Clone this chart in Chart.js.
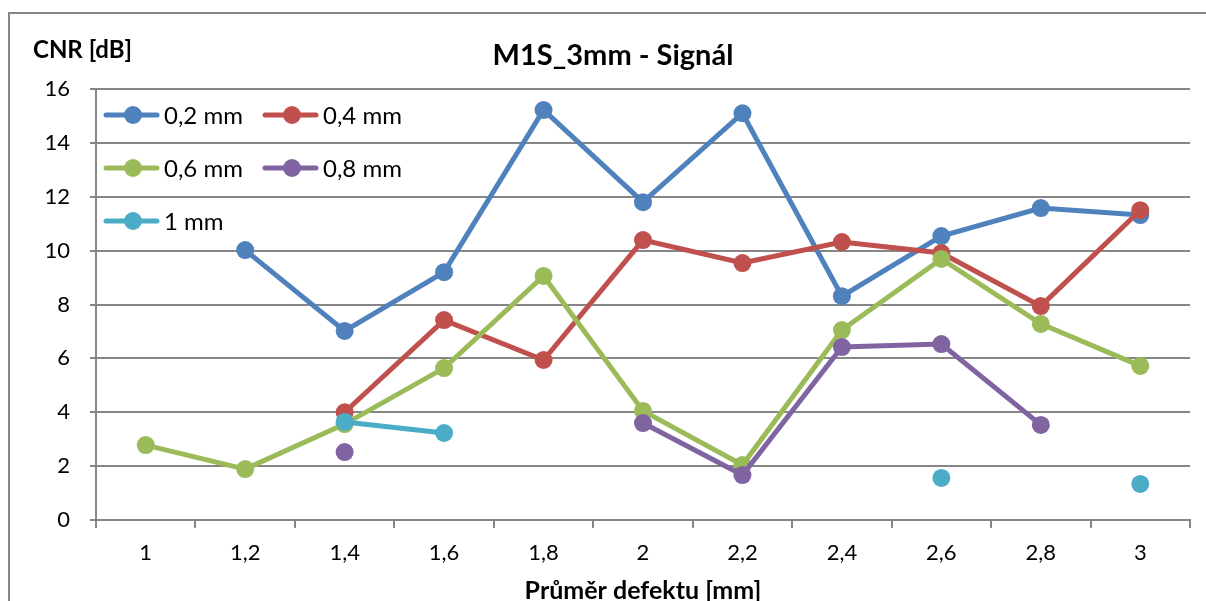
<!DOCTYPE html>
<html>
<head>
<meta charset="utf-8">
<script src="https://cdn.jsdelivr.net/npm/chart.js@4"></script>
<style>
  html, body { margin: 0; padding: 0; background: #fff; }
  #wrap { width: 1206px; height: 601px; }
</style>
</head>
<body>
<div id="wrap"><canvas id="cnrChart" width="1206" height="601"></canvas></div>
<script>
// Defect diameters on the x axis
const categories = ['1', '1,2', '1,4', '1,6', '1,8', '2', '2,2', '2,4', '2,6', '2,8', '3'];

// CNR values per hole depth (null = no measurement)
const cnr02 = [null, 10.02, 7.02, 9.2, 15.22, 11.8, 15.1, 8.31, 10.54, 11.58, 11.32];
const cnr04 = [null, null, 4.0, 7.42, 5.94, 10.39, 9.54, 10.32, 9.91, 7.94, 11.5];
const cnr06 = [2.78, 1.89, 3.56, 5.64, 9.06, 4.05, 2.04, 7.05, 9.69, 7.28, 5.72];
const cnr08 = [null, null, 2.52, null, null, 3.6, 1.67, 6.42, 6.53, 3.53, null];
const cnr10 = [null, null, 3.64, 3.23, null, null, null, null, 1.56, null, 1.34];

const seriesLabels = ['0,2 mm', '0,4 mm', '0,6 mm', '0,8 mm', '1 mm'];
const yTicks = [0, 2, 4, 6, 8, 10, 12, 14, 16];

const colors = ['#4F81BD', '#C0504D', '#9BBB59', '#8064A2', '#4BACC6'];
const gridColor = '#868686';
const fontFamily = 'Lato, "Open Sans", sans-serif';

function makeSet(label, data, i) {
  return {
    label: label,
    data: data,
    borderColor: colors[i],
    backgroundColor: colors[i],
    borderWidth: 5,
    pointRadius: 9,
    pointHoverRadius: 9,
    pointBorderWidth: 0,
    pointBackgroundColor: colors[i],
    spanGaps: false,
    tension: 0,
    order: 5 - i
  };
}

// Frame, titles and the in-plot legend
const decorations = {
  id: 'decorations',
  beforeDraw(chart) {
    const ctx = chart.ctx;
    ctx.save();
    ctx.fillStyle = '#fff';
    ctx.fillRect(0, 0, chart.width, chart.height);
    ctx.strokeStyle = gridColor;
    ctx.lineWidth = 2;
    ctx.strokeRect(9, 13, chart.width + 20, chart.height + 20);
    ctx.restore();
  },
  afterDraw(chart) {
    const ctx = chart.ctx;
    const area = chart.chartArea;
    ctx.save();
    ctx.fillStyle = '#000';
    ctx.textBaseline = 'middle';

    ctx.font = 'bold 29px ' + fontFamily;
    ctx.textAlign = 'center';
    ctx.fillText('M1S_3mm - Signál', 613, 56);

    ctx.font = 'bold 24px ' + fontFamily;
    ctx.textAlign = 'left';
    ctx.fillText('CNR [dB]', 33, 50);

    ctx.font = 'bold 25px ' + fontFamily;
    ctx.textAlign = 'center';
    ctx.fillText('Průměr defektu [mm]', (area.left + area.right) / 2, 591);

    // legend: two columns, three rows
    ctx.font = '24px ' + fontFamily;
    ctx.textAlign = 'left';
    chart.data.datasets.forEach((ds, i) => {
      const col = i % 2;
      const row = Math.floor(i / 2);
      const x0 = 106 + col * 159;
      const y = 115 + row * 53;
      ctx.strokeStyle = ds.borderColor;
      ctx.lineWidth = 5;
      ctx.lineCap = 'round';
      ctx.beginPath();
      ctx.moveTo(x0, y);
      ctx.lineTo(x0 + 51, y);
      ctx.stroke();
      ctx.fillStyle = ds.borderColor;
      ctx.beginPath();
      ctx.arc(x0 + 27, y, 9, 0, Math.PI * 2);
      ctx.fill();
      ctx.fillStyle = '#000';
      ctx.fillText(ds.label, x0 + 58, y + 1);
    });
    ctx.restore();
  }
};

const ctx = document.getElementById('cnrChart').getContext('2d');
new Chart(ctx, {
  type: 'line',
  data: {
    labels: categories,
    datasets: [
      makeSet(seriesLabels[0], cnr02, 0),
      makeSet(seriesLabels[1], cnr04, 1),
      makeSet(seriesLabels[2], cnr06, 2),
      makeSet(seriesLabels[3], cnr08, 3),
      makeSet(seriesLabels[4], cnr10, 4)
    ]
  },
  options: {
    responsive: false,
    animation: false,
    layout: { padding: { left: 0, top: 89, right: 16, bottom: 0 } },
    plugins: {
      legend: { display: false },
      title: { display: false },
      tooltip: { enabled: false }
    },
    scales: {
      x: {
        offset: true,
        grid: {
          offset: true,
          drawOnChartArea: false,
          drawTicks: true,
          tickLength: 8,
          color: gridColor,
          lineWidth: 2
        },
        border: { color: gridColor, width: 2 },
        ticks: {
          color: '#000',
          font: { family: fontFamily, size: 22 },
          padding: 12,
          maxRotation: 0
        },
        afterFit(scale) { scale.height = 81; }
      },
      y: {
        min: yTicks[0],
        max: yTicks[yTicks.length - 1],
        afterBuildTicks(scale) { scale.ticks = yTicks.map(v => ({ value: v })); },
        grid: {
          color: gridColor,
          lineWidth: 2,
          tickLength: 6
        },
        border: { color: gridColor, width: 2 },
        ticks: {
          color: '#000',
          font: { family: fontFamily, size: 22 },
          padding: 20
        },
        afterFit(scale) { scale.width = 96; }
      }
    }
  },
  plugins: [decorations]
});
</script>
</body>
</html>
